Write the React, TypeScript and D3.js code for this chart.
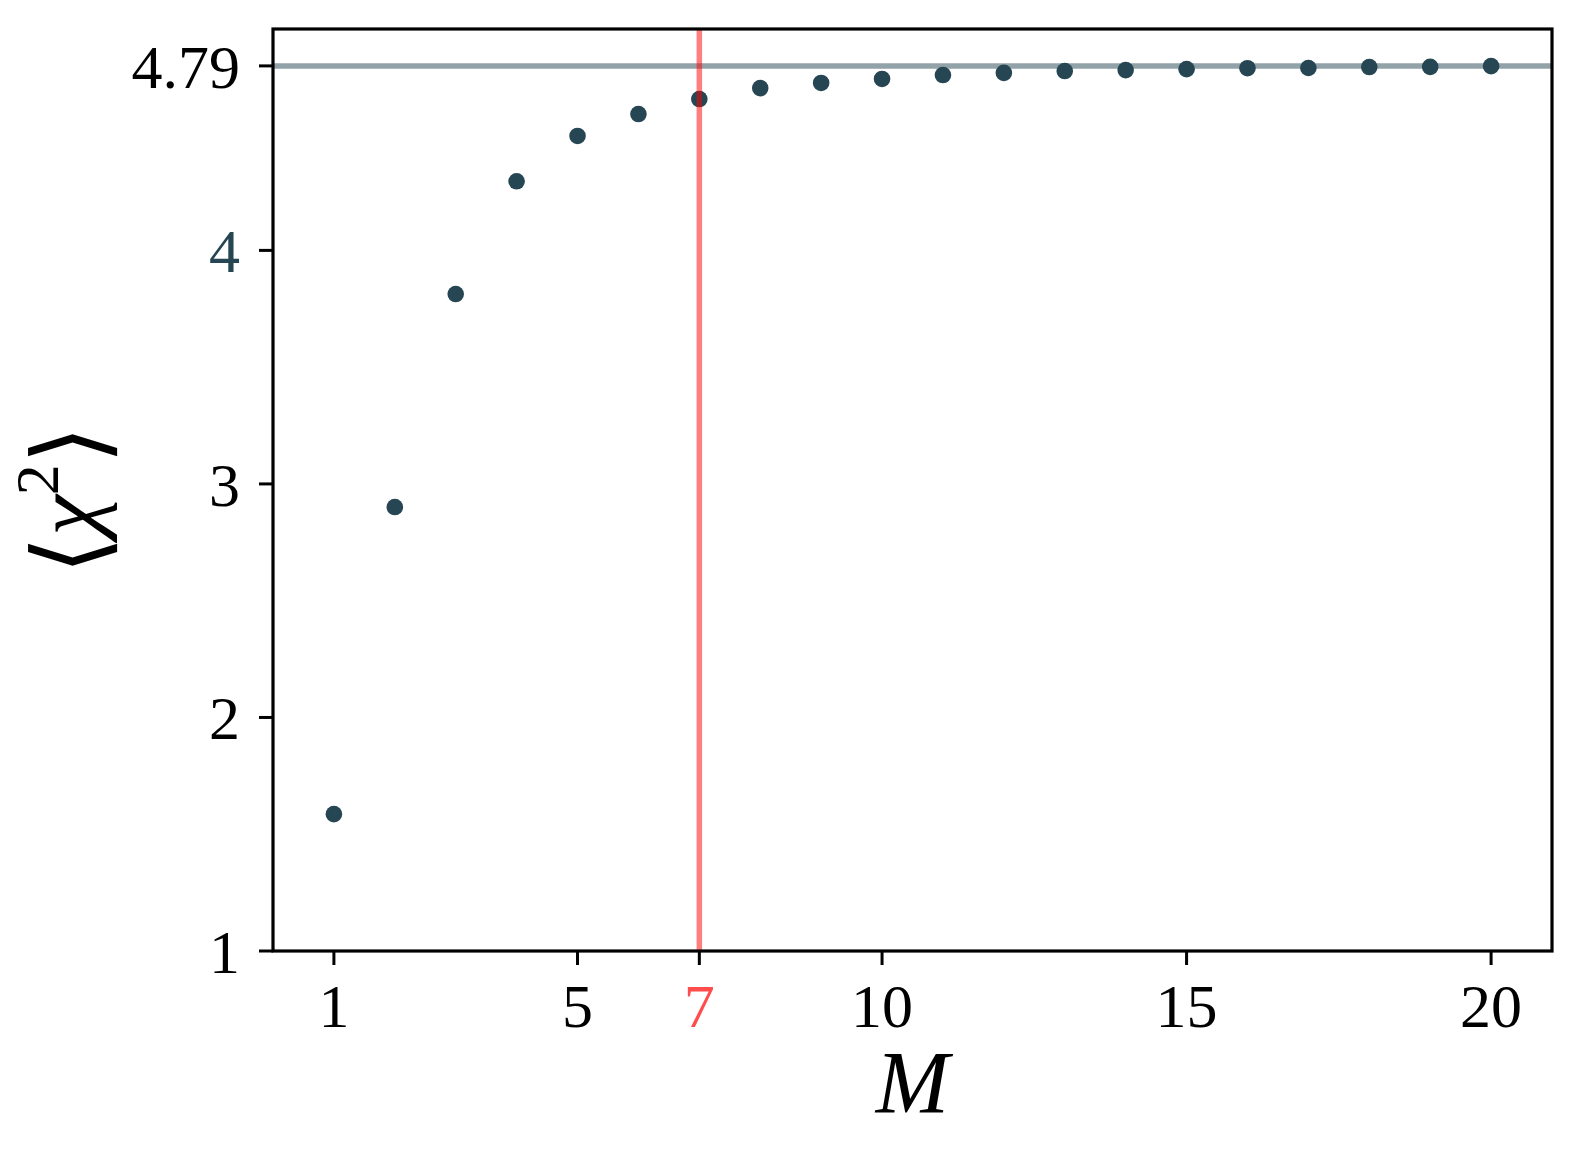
import React from "react";
import * as d3 from "d3";

const M_VALUES = [1, 2, 3, 4, 5, 6, 7, 8, 9, 10, 11, 12, 13, 14, 15, 16, 17, 18, 19, 20];
const CHI2_VALUES = [
  1.586, 2.901, 3.813, 4.296, 4.49, 4.584, 4.648, 4.695, 4.717, 4.734,
  4.751, 4.76, 4.768, 4.772, 4.776, 4.78, 4.781, 4.785, 4.786, 4.789,
];
const ASYMPTOTE = 4.79;
const CHOSEN_M = 7;
const X_TICKS = [1, 5, 7, 10, 15, 20];
const Y_TICKS = [1, 2, 3, 4, 4.79];
const Y_TICK_LABELS = ["1", "2", "3", "4", "4.79"];

const W = 1581;
const H = 1158;
const LEFT = 273;
const RIGHT = 1552;
const TOP = 29;
const BOTTOM = 951;

const DOT = "#264653";
const RED = "#ff4d4d";
const FONT = "'Liberation Serif', 'Times New Roman', serif";
const BRACKET_FONT = "'DejaVu Serif', serif";

export default function App() {
  const x = d3.scaleLinear().domain([0, 21]).range([LEFT, RIGHT]);
  const y = d3.scaleLinear().domain([1, 4.948]).range([BOTTOM, TOP]);

  const tickLen = 14;
  const fs = 62;

  return (
    <svg
      width={W}
      height={H}
      style={{ position: "absolute", left: 0, top: 0, background: "#fff" }}
      fontFamily={FONT}
    >
      <rect x={0} y={0} width={W} height={H} fill="#fff" />
      <line
        x1={LEFT}
        x2={RIGHT}
        y1={y(ASYMPTOTE)}
        y2={y(ASYMPTOTE)}
        stroke={DOT}
        strokeOpacity={0.5}
        strokeWidth={5.5}
      />
      {M_VALUES.map((m, i) => (
        <circle key={m} cx={x(m)} cy={y(CHI2_VALUES[i])} r={8.3} fill={DOT} />
      ))}
      <line
        x1={x(CHOSEN_M)}
        x2={x(CHOSEN_M)}
        y1={TOP}
        y2={BOTTOM}
        stroke="red"
        strokeOpacity={0.5}
        strokeWidth={5.5}
      />
      <rect
        x={LEFT}
        y={TOP}
        width={RIGHT - LEFT}
        height={BOTTOM - TOP}
        fill="none"
        stroke="#000"
        strokeWidth={3.2}
      />
      {X_TICKS.map((t) => (
        <g key={"x" + t}>
          <line x1={x(t)} x2={x(t)} y1={BOTTOM} y2={BOTTOM + tickLen} stroke="#000" strokeWidth={3} />
          <text
            x={x(t)}
            y={1027}
            textAnchor="middle"
            fontSize={fs}
            fill={t === CHOSEN_M ? RED : "#000"}
          >
            {String(t)}
          </text>
        </g>
      ))}
      {Y_TICKS.map((t, i) => (
        <g key={"y" + t}>
          <line x1={LEFT - tickLen} x2={LEFT} y1={y(t)} y2={y(t)} stroke="#000" strokeWidth={3} />
          <text
            x={240}
            y={y(t) + 22}
            textAnchor="end"
            fontSize={fs}
            fill={t === 4 ? DOT : "#000"}
          >
            {Y_TICK_LABELS[i]}
          </text>
        </g>
      ))}
      <text
        x={(LEFT + RIGHT) / 2}
        y={1112}
        textAnchor="middle"
        fontSize={88}
        fontStyle="italic"
        fill="#000"
      >
        M
      </text>
      <text
        transform={`translate(98,500) rotate(-90)`}
        textAnchor="middle"
        fontSize={92}
        fill="#000"
      >
        <tspan fontFamily={BRACKET_FONT} fontSize={100} dy={6}>⟨</tspan>
        <tspan fontStyle="italic" dy={-6}>χ</tspan>
        <tspan fontSize={62} dy={-40}>2</tspan>
        <tspan fontFamily={BRACKET_FONT} fontSize={100} dy={46}>⟩</tspan>
      </text>
    </svg>
  );
}
